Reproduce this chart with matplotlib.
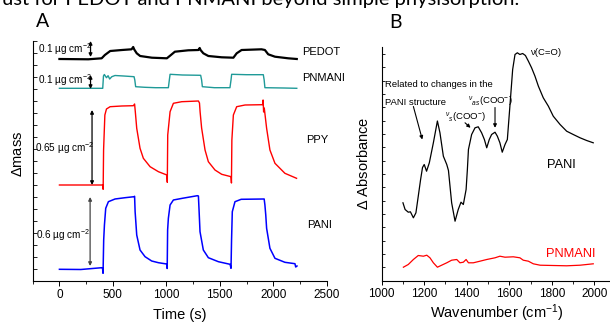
import matplotlib
matplotlib.use("Agg")
import matplotlib.pyplot as plt
from matplotlib.ticker import MultipleLocator

plt.rcParams['font.family'] = ['Liberation Sans', 'DejaVu Sans']
plt.rcParams['mathtext.fontset'] = 'custom'
plt.rcParams['mathtext.rm'] = 'Liberation Sans'
plt.rcParams['mathtext.it'] = 'Liberation Sans:italic'
plt.rcParams['mathtext.bf'] = 'Liberation Sans:bold'

# ---------------- Panel A data (time in s, mass in arbitrary offset units) ----
pedot_t = [0, 270, 395, 425, 475, 585, 675, 690, 700, 723, 755, 865, 1005, 1035, 1080,
           1205, 1300, 1312, 1320, 1346, 1393, 1518, 1627, 1658, 1704, 1890, 1922, 1953,
           2016, 2140, 2220]
pedot_m = [222, 221.7, 222.7, 226, 230, 231, 231.7, 234, 231.5, 227.7, 225, 223.3, 222.7,
           225.3, 229.3, 230.7, 231, 233, 231, 227.7, 225, 223.7, 223.3, 227.7, 231, 231.7,
           231, 226.7, 224.3, 222.7, 222]

pnmani_t = [0, 405, 412, 420, 440, 455, 470, 490, 520, 600, 698, 705, 713, 800, 900, 1019,
            1028, 1035, 1150, 1321, 1330, 1337, 1450, 1595, 1605, 1611, 1750, 1907, 1915,
            1922, 2100, 2220]
pnmani_m = [192.7, 192.7, 205, 206.5, 203.3, 205.3, 202, 204.3, 205.5, 205, 204.3, 201,
            194.3, 193.7, 193.3, 193.3, 201, 206.7, 206, 205.7, 201, 194.3, 193.3, 193.3,
            201, 206.7, 206.3, 206.3, 201, 193.3, 193, 192.7]

ppy_t = [0, 405, 409, 413, 425, 440, 474, 583, 692, 703, 710, 723, 754, 785, 848, 926, 1005,
         1009, 1013, 1035, 1066, 1144, 1300, 1310, 1316, 1330, 1362, 1393, 1455, 1518, 1605,
         1609, 1613, 1627, 1658, 1736, 1900, 1905, 1910, 1916, 1938, 1969, 2016, 2109, 2218]
ppy_m = [96, 96, 91.7, 131, 166, 172, 174.3, 175, 175.3, 177, 169, 152.7, 132.7, 122.7,
         114.3, 109.3, 106, 98.7, 146, 169.3, 177.7, 179.3, 180, 178, 169, 153, 131, 119.3,
         111, 106.7, 104.3, 98, 141, 166, 174.3, 176, 176.3, 181, 169, 173, 152.7, 131,
         117.7, 107.7, 102.7]

pani_t = [0, 200, 396, 403, 408, 414, 421, 433, 458, 520, 614, 698, 703, 708, 723, 754, 801,
          863, 926, 1003, 1008, 1012, 1019, 1035, 1066, 1150, 1290, 1300, 1306, 1315, 1346,
          1393, 1487, 1596, 1605, 1610, 1617, 1642, 1700, 1915, 1922, 1930, 1938, 1969,
          2016, 2109, 2203, 2210, 2222]
pani_m = [11.7, 11.5, 13.3, 13, 7.7, 41, 56, 72.7, 79.3, 82, 83.3, 84.3, 84.7, 69.3, 46, 31,
          24.3, 20, 18.3, 17, 12.5, 51, 62.7, 76, 81, 82.7, 85.3, 85, 71, 49.3, 31, 23.3,
          19.3, 16.7, 12.7, 41, 69.3, 79.3, 81.7, 82, 76, 66, 52.7, 32.7, 22.7, 18.7, 17.3,
          14, 15]

time_ticks = [0, 500, 1000, 1500, 2000, 2500]

# ---------------- Panel B data (wavenumber, delta absorbance arb. units) -------
pani_wn = [1100, 1110, 1125, 1135, 1149, 1161, 1172, 1183, 1192, 1200, 1211, 1224, 1243,
           1262, 1274, 1290, 1306, 1314, 1329, 1345, 1360, 1373, 1384, 1397, 1403, 1408,
           1423, 1439, 1454, 1470, 1483, 1494, 1506, 1517, 1533, 1544, 1556, 1567, 1580,
           1591, 1603, 1616, 1627, 1638, 1650, 1663, 1676, 1690, 1705, 1721, 1737, 1760,
           1784, 1807, 1839, 1870, 1901, 1933, 1964, 1995]
pani_abs = [77.7, 71, 68.3, 68.7, 62.7, 67.7, 84.3, 101, 113, 116, 109.3, 117.7, 137.7,
            159.5, 147.7, 124.3, 116, 110, 77.7, 59.3, 71, 78.3, 76, 91, 111, 131, 146,
            152.7, 153.7, 147.7, 141, 132.7, 141, 146, 148.3, 144.3, 137.7, 128.3, 136, 141,
            174.3, 211, 226, 227.7, 226, 227, 225, 219.3, 212.7, 204.3, 194.3, 182.7, 174.3,
            164.3, 156, 149.3, 146, 142.7, 140, 137.7]

pnmani_wn = [1102, 1125, 1149, 1172, 1196, 1212, 1227, 1243, 1262, 1282, 1306, 1329, 1353,
             1368, 1384, 1397, 1408, 1431, 1462, 1494, 1533, 1556, 1580, 1619, 1650, 1666,
             1690, 1713, 1745, 1807, 1870, 1933, 1995]
pnmani_abs = [13.3, 16, 21, 25, 24.3, 25.3, 22.7, 17.7, 13.3, 15.3, 17.7, 20.3, 21, 17.7,
              18.3, 21, 17.7, 17.7, 19.3, 21, 22.7, 24.3, 23.3, 23.7, 22.7, 20.3, 19.3, 16.7,
              15.3, 15, 14.7, 15.3, 16.7]

wn_ticks = [1000, 1200, 1400, 1600, 1800, 2000]

W, H = 610, 323
fig = plt.figure(figsize=(W / 100, H / 100), dpi=100)


def fx(px):
    return px / W


def fy(py):
    return 1 - py / H


# ---------------- Panel A -------------------------------------------------------
axA = fig.add_axes([fx(32.7), fy(281), (326.7 - 32.7) / W, 240 / H])
axA.plot(pedot_t, pedot_m, color='black', lw=1.6)
axA.plot(pnmani_t, pnmani_m, color='#1f9a98', lw=1.0)
axA.plot(ppy_t, ppy_m, color='#ff0000', lw=1.0)
axA.plot(pani_t, pani_m, color='#0000ff', lw=1.1)
axA.set_xlim(-250, 2500)
axA.set_ylim(0, 240)
axA.set_xticks(time_ticks)
axA.xaxis.set_minor_locator(MultipleLocator(250))
axA.yaxis.set_major_locator(MultipleLocator(12))
axA.set_yticklabels([])
axA.tick_params(axis='y', which='both', direction='in', length=3, width=0.6)
axA.tick_params(axis='x', which='major', direction='out', length=3.5, width=0.7, labelsize=8.5, pad=2.5)
axA.tick_params(axis='x', which='minor', direction='out', length=2.5, width=0.6)
for s in ['top', 'right']:
    axA.spines[s].set_visible(False)
for s in ['left', 'bottom']:
    axA.spines[s].set_linewidth(0.8)

fig.text(fx(180), fy(319.5), 'Time (s)', ha='center', va='baseline', fontsize=10.5)
fig.text(fx(18), fy(154), r'$\Delta$mass', rotation=90, ha='center', va='center', fontsize=10.5)

arrow_kw = dict(arrowstyle='<|-|>', lw=0.9, color='black', mutation_scale=5, shrinkA=0, shrinkB=0)
axA.annotate('', xy=(291, 240), xytext=(291, 224), arrowprops=arrow_kw)
axA.annotate('', xy=(291, 206), xytext=(291, 192), arrowprops=arrow_kw)
axA.annotate('', xy=(305, 171), xytext=(305, 96), arrowprops=arrow_kw)
axA.annotate('', xy=(287, 84), xytext=(287, 15), arrowprops=dict(arrow_kw, color='#444444'))

lab_fs = 7.2
axA.text(-205, 232, r'0.1 µg cm$^{-2}$', ha='left', va='center', fontsize=lab_fs)
axA.text(-205, 201, r'0.1 µg cm$^{-2}$', ha='left', va='center', fontsize=lab_fs)
axA.text(-225, 133, r'0.65 µg cm$^{-2}$', ha='left', va='center', fontsize=lab_fs)
axA.text(-215, 46, r'0.6 µg cm$^{-2}$', ha='left', va='center', fontsize=lab_fs)

axA.text(2268, 229, 'PEDOT', ha='left', va='center', fontsize=8)
axA.text(2268, 203, 'PNMANI', ha='left', va='center', fontsize=8)
axA.text(2306, 141, 'PPY', ha='left', va='center', fontsize=8)
axA.text(2315, 56, 'PANI', ha='left', va='center', fontsize=8)

# ---------------- Panel B -------------------------------------------------------
px_per = 0.2126
axB = fig.add_axes([fx(381.7), fy(280.5), 1100 * px_per / W, 233.5 / H])
axB.plot(pani_wn, pani_abs, color='black', lw=0.9)
axB.plot(pnmani_wn, pnmani_abs, color='#ff0000', lw=0.9)
axB.set_xlim(1000, 2100)
axB.set_ylim(0, 233.5)
axB.set_xticks(wn_ticks)
axB.xaxis.set_minor_locator(MultipleLocator(100))
axB.yaxis.set_major_locator(MultipleLocator(13.33))
axB.set_yticklabels([])
axB.tick_params(axis='y', which='both', direction='in', length=2.5, width=0.6)
axB.tick_params(axis='x', which='major', direction='out', length=3, width=0.7, labelsize=8.5, pad=2.5)
axB.tick_params(axis='x', which='minor', direction='out', length=2, width=0.6)
for s in ['top', 'right']:
    axB.spines[s].set_visible(False)
for s in ['left', 'bottom']:
    axB.spines[s].set_linewidth(0.8)

fig.text(fx(497), fy(317.5), r'Wavenumber (cm$^{-1}$)', ha='center', va='baseline', fontsize=10.5)
fig.text(fx(364), fy(163), r'$\Delta$ Absorbance', rotation=90, ha='center', va='center', fontsize=10.5)

bfs = 6.8
axB.text(1698, 228, r'ν(C=O)', ha='left', va='center', fontsize=bfs)
axB.text(1015, 196, 'Related to changes in the', ha='left', va='center', fontsize=bfs)
axB.text(1015, 177.7, 'PANI structure', ha='left', va='center', fontsize=bfs)
small_arrow = dict(arrowstyle='-|>', lw=0.8, color='black', mutation_scale=5, shrinkA=0, shrinkB=0)
axB.annotate('', xy=(1191, 141), xytext=(1149, 174), arrowprops=small_arrow)
axB.text(1297, 164, r'$^{\nu}$$_{s}$(COO$^{-}$)', ha='left', va='center', fontsize=bfs)
axB.annotate('', xy=(1418, 152.7), xytext=(1392, 157.7), arrowprops=small_arrow)
axB.text(1405, 179, r'$^{\nu}$$_{as}$(COO$^{-}$)', ha='left', va='center', fontsize=bfs)
axB.annotate('', xy=(1533, 152.7), xytext=(1533, 173), arrowprops=small_arrow)
axB.text(1776, 116, 'PANI', ha='left', va='center', fontsize=9.3)
axB.text(1773, 26.3, 'PNMANI', ha='left', va='center', fontsize=9.3, color='#ff0000')

# ---------------- Slide-level text ----------------------------------------------
fig.text(fx(2), fy(4.5), 'ust for PEDOT and PNMANI beyond simple physisorption.',
         ha='left', va='baseline', fontsize=14.5, family=['Lato', 'DejaVu Sans'])
fig.text(fx(36), fy(27), 'A', ha='left', va='baseline', fontsize=14, family=['Lato', 'DejaVu Sans'])
fig.text(fx(389), fy(28), 'B', ha='left', va='baseline', fontsize=14, family=['Lato', 'DejaVu Sans'])

fig.savefig('out.png', dpi=100)
